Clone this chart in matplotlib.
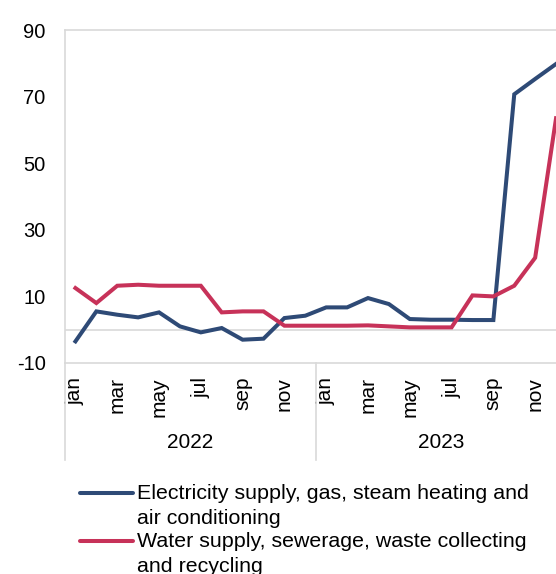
import matplotlib
matplotlib.use('Agg')
import matplotlib.pyplot as plt
from matplotlib.lines import Line2D

plt.rcParams['font.family'] = ['Liberation Sans', 'DejaVu Sans']
plt.rcParams['axes.unicode_minus'] = False

months = ['jan', 'feb', 'mar', 'apr', 'may', 'jun',
          'jul', 'aug', 'sep', 'oct', 'nov', 'dec']
years = ['2022', '2023']

electricity = [-3.5, 5.5, 4.5, 3.7, 5.2, 1.0, -0.8, 0.5, -3.0, -2.7, 3.5, 4.2,
               6.7, 6.7, 9.5, 7.7, 3.2, 3.0, 3.0, 2.9, 2.9, 70.7, 75.3, 79.8]
water = [12.5, 8.0, 13.2, 13.5, 13.2, 13.2, 13.2, 5.2, 5.5, 5.5, 1.2, 1.2,
         1.2, 1.2, 1.3, 1.0, 0.7, 0.7, 0.7, 10.3, 10.0, 13.2, 21.6, 63.5]

label_elec = 'Electricity supply, gas, steam heating and\nair conditioning'
label_water = 'Water supply, sewerage, waste collecting\nand recycling'

BLUE = '#2E4A76'
RED = '#C73259'
GRID = '#D9D9D9'

fig = plt.figure(figsize=(5.56, 5.74), dpi=100)
ax = fig.add_axes([65 / 556, 1 - 363 / 574, 501.5 / 556, 333 / 574])

x = list(range(len(electricity)))
ax.plot(x, electricity, color=BLUE, linewidth=2.9, solid_joinstyle='miter', zorder=3)
ax.plot(x, water, color=RED, linewidth=2.9, solid_joinstyle='miter', zorder=3)

ax.set_xlim(-0.5, len(x) - 0.5)
ax.set_ylim(-10, 90)
ax.set_yticks([-10, 10, 30, 50, 70, 90])
ax.tick_params(axis='y', length=0, pad=14, labelsize=14.5)
ax.axhline(0, color=GRID, linewidth=1.2, zorder=1)

# month ticks: every other month, both years
tick_pos = [i for i in x if i % 2 == 0]
ax.set_xticks(tick_pos)
ax.set_xticklabels([months[i % 12] for i in tick_pos], rotation=90,
                   va='top', ha='center')
ax.tick_params(axis='x', length=0, pad=10, labelsize=15)

for side in ['top', 'bottom', 'left']:
    ax.spines[side].set_color(GRID)
    ax.spines[side].set_linewidth(1.2)
ax.spines['right'].set_visible(False)

# category group lines and year labels below the axis
drop = -97 / 333
ax.add_line(Line2D([-0.5, -0.5], [0, drop], transform=ax.get_xaxis_transform(),
                   color=GRID, linewidth=1.2, clip_on=False))
ax.add_line(Line2D([11.5, 11.5], [0, drop], transform=ax.get_xaxis_transform(),
                   color=GRID, linewidth=1.2, clip_on=False))
for k, yr in enumerate(years):
    ax.text(5.5 + 12 * k, -80 / 333, yr, transform=ax.get_xaxis_transform(),
            ha='center', va='center', fontsize=15)

# legend drawn by hand so the key sits on the first text line
for y_px, col, lab in [(492.5, BLUE, label_elec), (540.5, RED, label_water)]:
    yf = 1 - y_px / 574
    fig.add_artist(Line2D([80 / 556, 133 / 556], [yf, yf], color=col,
                          linewidth=2.9, solid_capstyle='round'))
    for j, line in enumerate(lab.split('\n')):
        fig.text(137 / 556, 1 - (y_px + 6.5 + 24.5 * j) / 574, line,
                 ha='left', va='baseline', fontsize=15.4)

fig.savefig('out.png', dpi=100)
